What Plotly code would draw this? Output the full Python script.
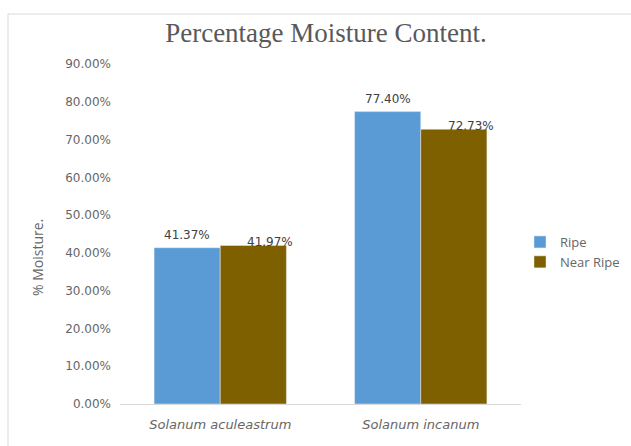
import plotly.graph_objects as go

# Data
species = ["Solanum aculeastrum", "Solanum incanum"]
ripe = [0.4137, 0.7740]
near_ripe = [0.4197, 0.7273]
y_ticks = [0.0, 0.1, 0.2, 0.3, 0.4, 0.5, 0.6, 0.7, 0.8, 0.9]

BLUE = "#5B9BD5"
BROWN = "#7F6000"
TEXT = "#666666"

W, H = 631, 446
M_L, M_R, M_T, M_B = 120, 110, 64, 42
bargap = 0.34
plot_w = W - M_L - M_R
plot_h = H - M_T - M_B

fig = go.Figure()
fig.add_trace(go.Bar(name="Ripe", x=species, y=ripe, marker_color=BLUE))
fig.add_trace(go.Bar(name="Near Ripe", x=species, y=near_ripe, marker_color=BROWN))

# bar width in pixels, for placing value labels over each bar
bar_px = plot_w / len(species) * (1 - bargap) / 2

label_font = dict(family="DejaVu Sans, sans-serif", size=12, color="#404040")
for cat, v in zip(species, ripe):
    fig.add_annotation(x=cat, y=v, text=f"{v*100:.2f}%", showarrow=False,
                       xshift=-bar_px / 2, yshift=13, font=label_font)
for cat, v in zip(species, near_ripe):
    fig.add_annotation(x=cat, y=v, text=f"{v*100:.2f}%", showarrow=False,
                       xshift=bar_px / 2 + 17, yshift=3, font=label_font)

# y-axis title
fig.add_annotation(text="% Moisture.", xref="paper", yref="paper",
                   x=(37 - M_L) / plot_w, y=(H - M_B - 258) / plot_h,
                   xanchor="center", yanchor="middle",
                   textangle=-90, showarrow=False,
                   font=dict(family="Open Sans, sans-serif", size=14, color=TEXT))

# light frame along top and left edges
top = 1 + (M_T - 14) / plot_h
left = -(M_L - 8) / plot_w
fig.add_shape(type="line", xref="paper", yref="paper",
              x0=left, x1=(W - M_L) / plot_w + 0.05, y0=top, y1=top,
              line=dict(color="#D9D9D9", width=1))
fig.add_shape(type="line", xref="paper", yref="paper",
              x0=left, x1=left, y0=-0.2, y1=top,
              line=dict(color="#D9D9D9", width=1))

fig.update_layout(
    width=W, height=H,
    margin=dict(l=M_L, r=M_R, t=M_T, b=M_B, autoexpand=False),
    paper_bgcolor="white", plot_bgcolor="white",
    barmode="group", bargap=bargap, bargroupgap=0,
    title=dict(text="Percentage Moisture Content.", x=326 / W, xref="container",
               xanchor="center", y=1 - 33 / H, yref="container", yanchor="middle",
               font=dict(family="Liberation Serif, Times New Roman, serif", size=27,
                         color="#595959")),
    legend=dict(x=520 / W, y=1 - 252 / H, xref="container", yref="container",
                xanchor="left", yanchor="middle",
                font=dict(family="Open Sans, sans-serif", size=13, color=TEXT),
                itemwidth=30, tracegroupgap=3, bgcolor="rgba(0,0,0,0)"),
    xaxis=dict(showline=True, linecolor="#D9D9D9", linewidth=1, ticks="",
               ticklabelstandoff=8,
               tickfont=dict(family="DejaVu Sans, sans-serif", size=13, color=TEXT,
                             style="italic")),
    yaxis=dict(range=[0, 0.9], tickvals=y_ticks, tickformat=".2%", showgrid=False,
               zeroline=False, showline=False, ticks="", ticklabelstandoff=8,
               tickfont=dict(family="DejaVu Sans, sans-serif", size=12, color=TEXT)),
    showlegend=True,
)

fig.write_html("out.html")
